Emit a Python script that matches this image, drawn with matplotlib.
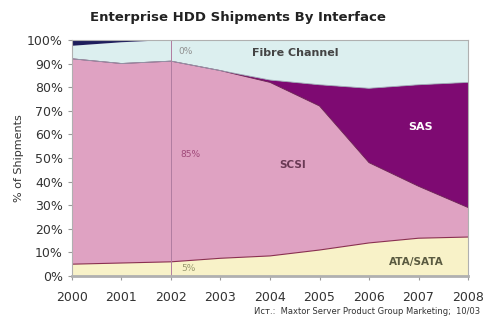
import numpy as np
import matplotlib
matplotlib.use('Agg')
import matplotlib.pyplot as plt

# данные по годам, % от поставок
years = [2000, 2001, 2002, 2003, 2004, 2005, 2006, 2007, 2008]
ata = [5, 5.5, 6, 7.5, 8.5, 11, 14, 16, 16.5]
scsi = [87, 84.5, 85, 79.5, 73.5, 61, 34, 22, 12.5]
sas = [0, 0, 0, 0, 1, 9, 31.5, 43, 53]
fibre = [5.5, 9, 9, 13, 17, 19, 20.5, 19, 18]
other = [2.5, 1, 0, 0, 0, 0, 0, 0, 0]

colors = ['#f8f2c8', '#dfa2c2', '#7e0a72', '#dcefef', '#1e1e5c']

fig = plt.figure(figsize=(4.83, 3.27), dpi=100)
ax = fig.add_axes([0.149, 0.156, 0.82, 0.722])

ax.stackplot(years, ata, scsi, sas, fibre, other, colors=colors, linewidth=0)

# границы слоёв
tops = np.cumsum([ata, scsi, sas, fibre], axis=0)
ax.plot(years, tops[0], color='#8a3050', lw=0.8)
ax.plot(years, tops[1], color='#6a2050', lw=0.6)
ax.plot(years, tops[2], color='#9aa0b0', lw=0.6)

ax.axvline(2002, color='#b07ca0', lw=0.7)

ax.set_xlim(2000, 2008)
ax.set_ylim(0, 100)
ax.set_xticks(years)
ax.set_yticks(np.arange(0, 101, 10))
ax.set_yticklabels([f'{v}%' for v in range(0, 101, 10)])
ax.tick_params(axis='both', labelsize=9, colors='#9a9a9a', labelcolor='#333333', length=3)
ax.tick_params(axis='x', pad=8)
for s in ax.spines.values():
    s.set_color('#b0b0b0')
    s.set_linewidth(0.8)
ax.spines['bottom'].set_linewidth(2)

ax.set_ylabel('% of Shipments', fontsize=8, color='#333333', labelpad=2)

# подписи слоёв
ax.text(2004.5, 94.5, 'Fibre Channel', fontsize=8, fontweight='bold', color='#444444', ha='center', va='center')
ax.text(2007.05, 63, 'SAS', fontsize=8, fontweight='bold', color='white', ha='center', va='center')
ax.text(2004.45, 47, 'SCSI', fontsize=7.5, fontweight='bold', color='#6a3a55', ha='center', va='center')
ax.text(2006.95, 6, 'ATA/SATA', fontsize=7.5, fontweight='bold', color='#5a5a40', ha='center', va='center')

ax.text(2002.3, 95, '0%', fontsize=6.5, color='#909090', ha='center', va='center')
ax.text(2002.4, 51.5, '85%', fontsize=6.5, color='#a04a7a', ha='center', va='center')
ax.text(2002.35, 3.2, '5%', fontsize=6.5, color='#9a9a70', ha='center', va='center')

fig.text(238 / 483, 1 - 18 / 327, 'Enterprise HDD Shipments By Interface',
         fontsize=9.5, fontweight='bold', color='#222222', ha='center', va='center')
fig.text(480 / 483, 1 - 312 / 327, 'Ист.:  Maxtor Server Product Group Marketing;  10/03',
         fontsize=6, color='#333333', ha='right', va='center')

fig.savefig('out.png', dpi=100)
